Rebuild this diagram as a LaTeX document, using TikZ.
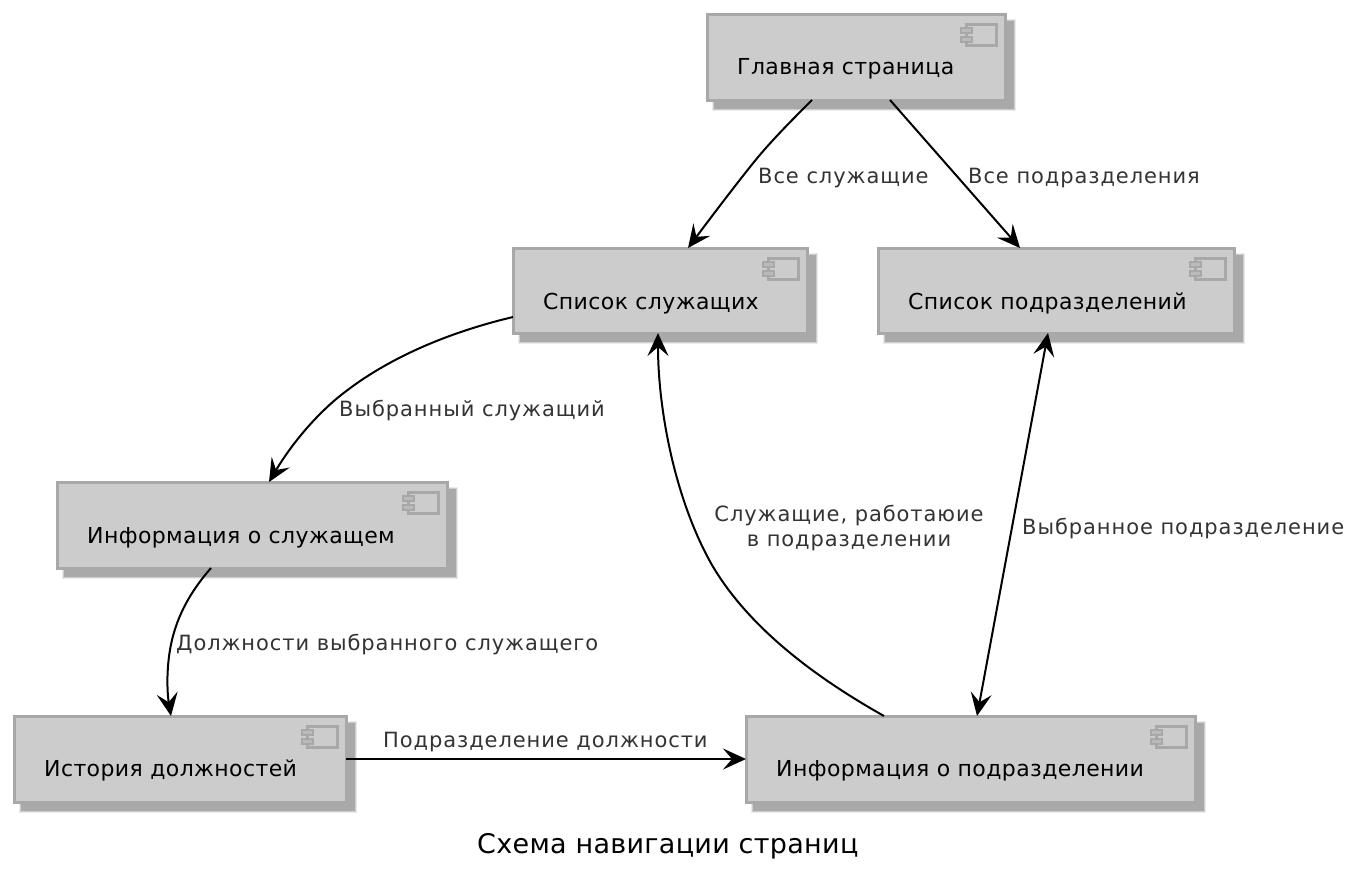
\documentclass[tikz,border=0pt]{standalone}
\usepackage{fontspec}
\setmainfont{DejaVu Sans}
\newfontfamily\boxfont[LetterSpace=1.8]{DejaVu Sans}
\newfontfamily\labelfont[LetterSpace=4.4]{DejaVu Sans}
\newfontfamily\titlefont[LetterSpace=1.1]{DejaVu Sans}
\usetikzlibrary{arrows.meta}
\definecolor{boxfill}{HTML}{CCCCCC}
\definecolor{boxline}{HTML}{A8A8A8}
\definecolor{edgetext}{HTML}{333333}
\tikzset{
  compbox/.style={draw=boxline,line width=3pt,fill=boxfill,rectangle,inner sep=0pt,outer sep=0pt},
  boxtext/.style={anchor=base west,inner sep=0pt,font=\boxfont\fontsize{22}{25}\selectfont,text=black},
  edgelabel/.style={anchor=base west,inner sep=0pt,font=\labelfont\fontsize{21}{25}\selectfont,text=edgetext},
  link/.style={line width=2pt,draw=black,-{Stealth[length=23pt,width=21pt,inset=9pt]}},
  linkboth/.style={line width=2pt,draw=black,{Stealth[length=23pt,width=21pt,inset=9pt]}-{Stealth[length=23pt,width=21pt,inset=9pt]}},
}
% name, x1, y1, x2, y2, text x, baseline y, text
\newcommand{\compnode}[8]{%
  \fill[black,opacity=.08] (#2+5,#3+5) rectangle (#4+11,#5+11);
  \fill[black,opacity=.12] (#2+6,#3+6) rectangle (#4+10,#5+10);
  \fill[black,opacity=.18] (#2+7,#3+7) rectangle (#4+9,#5+9);
  \node[compbox,minimum width=#4pt-#2pt,minimum height=#5pt-#3pt,anchor=north west] (#1) at (#2,#3) {};
  \node[boxtext] (#1t) at (#6,#7) {#8};
  \draw[boxline,line width=3pt,fill=boxfill] (#4-39,#3+10) rectangle (#4-9,#3+31);
  \draw[boxline,line width=2pt,fill=boxfill!50!boxline] (#4-44,#3+14) rectangle (#4-33,#3+19);
  \draw[boxline,line width=2pt,fill=boxfill!50!boxline] (#4-44,#3+23) rectangle (#4-33,#3+28);
}
\begin{document}
\begin{tikzpicture}[x=1pt,y=-1pt]
\useasboundingbox (0,0) rectangle (1360,868);
\compnode{main}{707}{14}{1005}{100}{737}{74}{Главная страница}
\compnode{emps}{513}{248}{807}{333}{543}{309}{Список служащих}
\compnode{depts}{878}{248}{1234}{333}{908}{309}{Список подразделений}
\compnode{info}{57}{482}{447}{568}{87}{543}{Информация о служащем}
\compnode{hist}{14}{716}{346}{802}{44}{776}{История должностей}
\compnode{dinfo}{746}{716}{1195}{802}{776}{776}{Информация о подразделении}

\draw[link] ([xshift=105pt]main.south west) .. controls (790,122) and (768,144) .. (750,167)
  .. controls (730,192) and (703,228) .. ([xshift=175pt]emps.north west);
\draw[link] ([xshift=183pt]main.south west) -- ([xshift=142pt]depts.north west);
\draw[link] ([yshift=16pt]emps.south west) .. controls (450,332) and (385,358) .. (335,400)
  .. controls (305,426) and (285,455) .. ([xshift=212pt]info.north west);
\draw[link] ([xshift=154pt]info.south west) .. controls (190,592) and (178,615) .. (172,640)
  .. controls (166,665) and (167,692) .. ([xshift=157pt]hist.north west);
\draw[link] (hist.east |- 0,759) -- (dinfo.west |- 0,759);
\draw[link] ([xshift=138pt]dinfo.north west) .. controls (820,680) and (750,630) .. (712,565)
  .. controls (675,500) and (658,410) .. ([xshift=145pt]emps.south west);
\draw[linkboth] ([xshift=170pt]depts.south west) -- ([xshift=231pt]dinfo.north west);

\node[edgelabel] (l1) at (758,183) {Все служащие};
\node[edgelabel] (l2) at (968,183) {Все подразделения};
\node[edgelabel] (l3) at (339,416) {Выбранный служащий};
\node[edgelabel,anchor=base,align=center] (l4) at (849,546) {Служащие, работаюие\\в подразделении};
\node[edgelabel] (l5) at (1022,534) {Выбранное подразделение};
\node[edgelabel] (l6) at (176,650) {Должности выбранного служащего};
\node[edgelabel] (l7) at (383,747) {Подразделение должности};
\node[anchor=base west,inner sep=0pt,font=\titlefont\fontsize{27}{32}\selectfont] (title) at (477,853) {Схема навигации страниц};
\end{tikzpicture}
\end{document}
